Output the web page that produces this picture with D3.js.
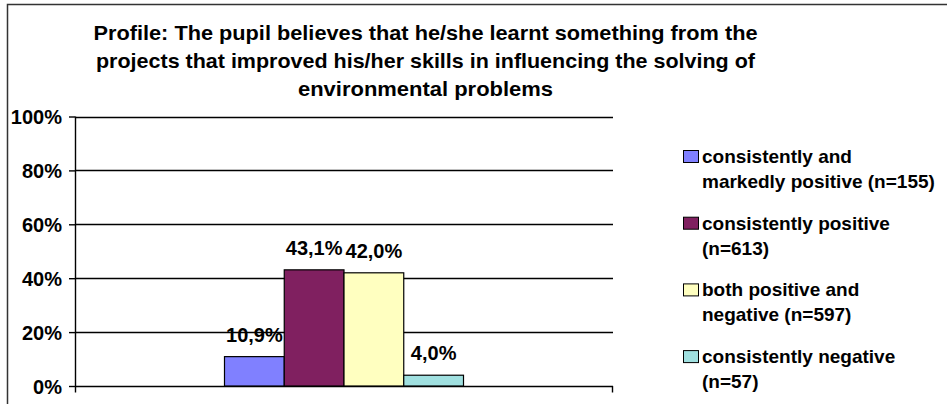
<!DOCTYPE html>
<html>
<head>
<meta charset="utf-8">
<script src="https://cdn.jsdelivr.net/npm/d3@7"></script>
<style>
  html, body { margin: 0; padding: 0; background: #fff; }
  svg { display: block; }
  text { font-family: "Liberation Sans", Arial, sans-serif; font-weight: bold; fill: #000; }
</style>
</head>
<body>
<svg id="chart" width="947" height="404"></svg>
<script>
// ---- data ----
const titleLines = [
  "Profile: The pupil believes that he/she learnt something from the",
  "projects that improved his/her skills in influencing the solving of",
  "environmental problems"
];
const categories = [""];
const seriesNames = [
  "consistently and markedly positive (n=155)",
  "consistently positive (n=613)",
  "both positive and negative (n=597)",
  "consistently negative (n=57)"
];
const legendLines = [
  ["consistently and", "markedly positive (n=155)"],
  ["consistently positive", "(n=613)"],
  ["both positive and", "negative (n=597)"],
  ["consistently negative", "(n=57)"]
];
const seriesValues = [0.109, 0.431, 0.420, 0.040];
const valueLabels = ["10,9%", "43,1%", "42,0%", "4,0%"];
const yTicks = [0, 0.2, 0.4, 0.6, 0.8, 1.0];
const yTickLabels = ["0%", "20%", "40%", "60%", "80%", "100%"];
const seriesColors = ["#8080ff", "#802060", "#ffffc0", "#a0e0e0"];

// ---- layout ----
const svg = d3.select("#chart");
const plot = { left: 75, right: 613, top: 116.5, bottom: 386 };

// outer chart border (right and bottom are outside the picture)
svg.append("rect")
  .attr("x", 7.5).attr("y", 4.5).attr("width", 1000).attr("height", 1000)
  .attr("fill", "none").attr("stroke", "#333").attr("stroke-width", 1.5);

// title
const titleWidths = [664, 659, 255];
svg.append("g").selectAll("text").data(titleLines).join("text")
  .attr("x", 425.5)
  .attr("y", (d, i) => 39.5 + i * 28)
  .attr("text-anchor", "middle")
  .attr("font-size", 21)
  .attr("textLength", (d, i) => titleWidths[i])
  .attr("lengthAdjust", "spacingAndGlyphs")
  .text(d => d);

// scales
const x0 = d3.scaleBand().domain(categories).range([plot.left, plot.right])
  .paddingInner(0).paddingOuter(0.6255);
const x1 = d3.scaleBand().domain(seriesNames).range([0, x0.bandwidth()]).padding(0);
const y = d3.scaleLinear().domain([0, 1]).range([plot.bottom, plot.top]);

// gridlines
svg.append("g").selectAll("line").data(yTicks).join("line")
  .attr("x1", plot.left).attr("x2", plot.right)
  .attr("y1", d => Math.round(y(d)) + 0.5).attr("y2", d => Math.round(y(d)) + 0.5)
  .attr("stroke", "#000").attr("stroke-width", 1.4);

// y axis
const yAxis = d3.axisLeft(y).tickValues(yTicks)
  .tickFormat((d, i) => yTickLabels[i]).tickSize(6).tickSizeOuter(0).tickPadding(7);
const yg = svg.append("g").attr("transform", `translate(${plot.left},0)`).call(yAxis);
yg.select(".domain").remove();
yg.selectAll(".tick line").attr("stroke", "#000").attr("stroke-width", 1.4);
yg.selectAll(".tick text").attr("font-size", 20).attr("font-family", null).attr("dy", "0.36em");
yg.attr("font-family", null);

// y axis line (extends below baseline as category tick)
svg.append("line")
  .attr("x1", plot.left + 0.5).attr("x2", plot.left + 0.5)
  .attr("y1", plot.top).attr("y2", plot.bottom + 6.5)
  .attr("stroke", "#000").attr("stroke-width", 1.4);
// category edge tick at right end
svg.append("line")
  .attr("x1", plot.right - 0.5).attr("x2", plot.right - 0.5)
  .attr("y1", plot.bottom).attr("y2", plot.bottom + 6.5)
  .attr("stroke", "#000").attr("stroke-width", 1.4);

// bars
const data = seriesNames.map((s, i) => ({ s, v: seriesValues[i], c: seriesColors[i], lab: valueLabels[i] }));
const g = svg.append("g").attr("transform", `translate(${x0(categories[0])},0)`);
g.selectAll("rect").data(data).join("rect")
  .attr("x", d => x1(d.s))
  .attr("y", d => y(d.v))
  .attr("width", x1.bandwidth())
  .attr("height", d => y(0) - y(d.v))
  .attr("fill", d => d.c)
  .attr("stroke", "#000").attr("stroke-width", 1.2);

// value labels
g.selectAll("text.val").data(data).join("text")
  .attr("class", "val")
  .attr("x", d => x1(d.s) + x1.bandwidth() / 2)
  .attr("y", d => y(d.v) - 15)
  .attr("text-anchor", "middle")
  .attr("font-size", 20)
  .text(d => d.lab);

// legend
const leg = svg.append("g");
const legItems = leg.selectAll("g").data(data).join("g")
  .attr("transform", (d, i) => `translate(683,${150 + i * 66.7})`);
legItems.append("rect")
  .attr("x", 0.5).attr("y", 0.5).attr("width", 15).attr("height", 12)
  .attr("fill", d => d.c).attr("stroke", "#000").attr("stroke-width", 1);
legItems.each(function(d, i) {
  d3.select(this).selectAll("text").data(legendLines[i]).join("text")
    .attr("x", 19)
    .attr("y", (t, j) => 13 + j * 25)
    .attr("font-size", 19)
    .text(t => t);
});
</script>
</body>
</html>
